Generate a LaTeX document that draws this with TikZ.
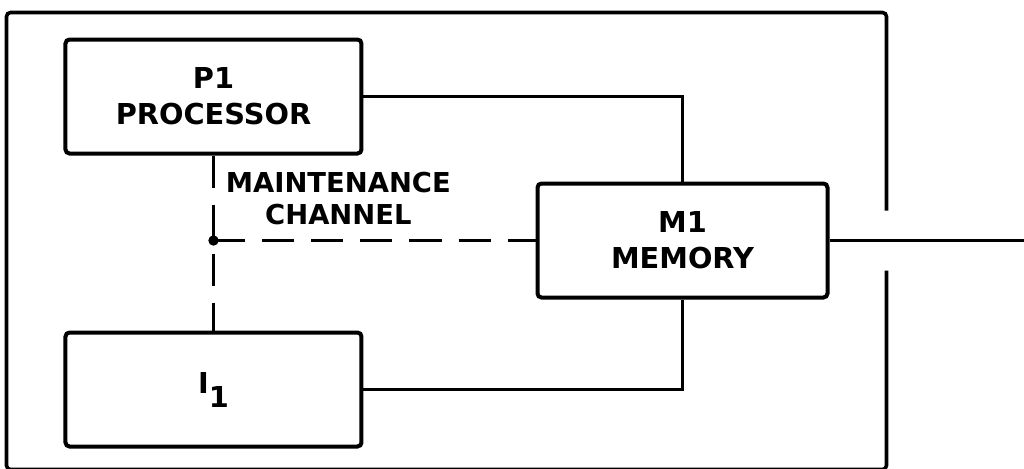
\documentclass[tikz,border=0pt]{standalone}
\usepackage{fontspec}
\setmainfont{DejaVu Sans}
\usetikzlibrary{positioning,calc}

\begin{document}
\begin{tikzpicture}[
  node distance=87.5pt and 86pt,
  unit/.style={draw, line width=2pt, rounded corners=2pt, align=center, minimum width=148pt, minimum height=57pt, inner sep=0pt, font=\bfseries\fontsize{14.4}{18}\selectfont},
  lbl/.style={align=center, inner sep=0pt, font=\bfseries\fontsize{13.7}{16}\selectfont},
  bus/.style={line width=1.4pt},
  maint/.style={line width=1.4pt, dash pattern=on 16pt off 8.5pt},
  frame/.style={line width=1.8pt, rounded corners=2pt}
]
\useasboundingbox (-106.75pt,48.25pt) rectangle (405.25pt,-185.75pt);

\node[unit] (proc) {P1\\PROCESSOR};
\node[unit, below=of proc] (io) {I\raisebox{-7pt}{1}};
\node[unit, minimum width=145pt, below right=13pt and 86pt of proc.south east] (mem) {M1\\MEMORY};

\coordinate (junc) at (proc.south |- mem.west);
\coordinate (ext) at (405.25pt,0 |- mem.east);

\node[lbl, anchor=south west] (chan) at ($(junc)+(6pt,7.5pt)$) {MAINTENANCE\\CHANNEL};

% outer frame, opened where the memory line leaves
\coordinate (gaptop) at ($(mem.east)+(28.5pt,15pt)$);
\coordinate (gapbot) at ($(mem.east)+(28.5pt,-15pt)$);
\coordinate (tl) at ($(proc.north west)+(-28.5pt,12.5pt)$);
\coordinate (br) at ($(io.south -| gapbot)+(0,-10.5pt)$);
\draw[frame] (gaptop) -- (gaptop |- tl) -- (tl) -- (tl |- br) -- (br) -- (gapbot);

\draw[bus] (proc.east) -| (mem.north);
\draw[bus] (io.east) -| (mem.south);
\draw[bus] (mem.east) -- (ext);

\draw[maint] (proc.south) -- (io.north);
\draw[maint] (junc) -- (mem.west);
\fill (junc) circle (2.6pt);
\end{tikzpicture}
\end{document}
